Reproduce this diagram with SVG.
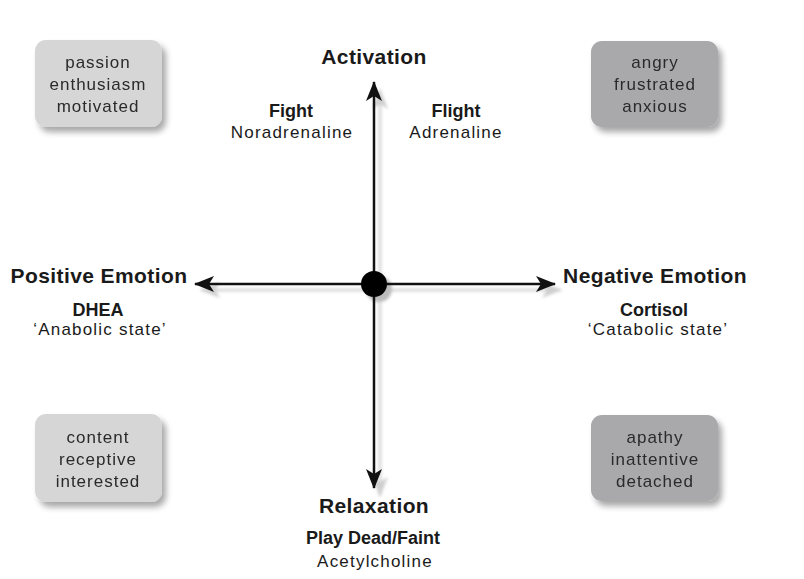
<svg xmlns="http://www.w3.org/2000/svg" width="804" height="579" viewBox="0 0 804 579">
<defs>
<style>
text{font-family:"Liberation Sans",Arial,sans-serif;fill:#1a1a1a;text-anchor:middle}
.h{font-weight:bold;font-size:21px;letter-spacing:0.4px}
.b{font-weight:bold;font-size:18px}
.r{font-size:17px;letter-spacing:1.2px}
.bx{font-size:17px;letter-spacing:1px;fill:#2a2a2a}
.light{fill:#d6d6d7}
.dark{fill:#a9a9ab}
.axis{stroke:#111;stroke-width:2.5;fill:none}
.shadow{stroke:#d8d8d8;stroke-width:3;fill:none}
</style>
<filter id="sh" x="-20%" y="-20%" width="150%" height="150%">
<feGaussianBlur in="SourceAlpha" stdDeviation="3"/>
<feOffset dx="4" dy="5" result="o"/>
<feComponentTransfer><feFuncA type="linear" slope="0.35"/></feComponentTransfer>
<feMerge><feMergeNode/><feMergeNode in="SourceGraphic"/></feMerge>
</filter>
<filter id="blur"><feGaussianBlur stdDeviation="1.5"/></filter>
<marker id="ah" viewBox="0 0 20 16" refX="19" refY="8" markerWidth="20" markerHeight="16" markerUnits="userSpaceOnUse" orient="auto">
<path d="M0,0 L20,8 L0,16 L5,8 Z" fill="#111"/>
</marker>
<marker id="ahs" viewBox="0 0 20 16" refX="19" refY="8" markerWidth="20" markerHeight="16" markerUnits="userSpaceOnUse" orient="auto">
<path d="M0,0 L20,8 L0,16 L5,8 Z" fill="#cfcfcf"/>
</marker>
</defs>
<rect width="804" height="579" fill="#fff"/>

<g id="connectors">
<g filter="url(#blur)">
<line class="shadow" x1="380" y1="290" x2="380" y2="90" marker-end="url(#ahs)"/>
<line class="shadow" x1="380" y1="290" x2="380" y2="496" marker-end="url(#ahs)"/>
<line class="shadow" x1="380" y1="290" x2="201" y2="290" marker-end="url(#ahs)"/>
<line class="shadow" x1="380" y1="290" x2="561" y2="290" marker-end="url(#ahs)"/>
<circle cx="379" cy="289" r="13" fill="#bbb"/>
</g>
<line class="axis" x1="374" y1="284" x2="374" y2="82" marker-end="url(#ah)"/>
<line class="axis" x1="374" y1="284" x2="374" y2="488" marker-end="url(#ah)"/>
<line class="axis" x1="374" y1="284" x2="195" y2="284" marker-end="url(#ah)"/>
<line class="axis" x1="374" y1="284" x2="555" y2="284" marker-end="url(#ah)"/>
<circle id="center" cx="374" cy="284" r="13" fill="#000"/>
</g>

<g id="box-tl" filter="url(#sh)">
<rect class="light" x="35" y="40" width="127" height="87" rx="11"/>
<text class="bx" x="98" y="68">passion</text>
<text class="bx" x="98" y="90">enthusiasm</text>
<text class="bx" x="98" y="112">motivated</text>
</g>
<g id="box-tr" filter="url(#sh)">
<rect class="dark" x="591" y="41" width="127" height="86" rx="11"/>
<text class="bx" x="655" y="68">angry</text>
<text class="bx" x="655" y="90">frustrated</text>
<text class="bx" x="655" y="112">anxious</text>
</g>
<g id="box-bl" filter="url(#sh)">
<rect class="light" x="35" y="414" width="127" height="88" rx="11"/>
<text class="bx" x="98" y="443">content</text>
<text class="bx" x="98" y="465">receptive</text>
<text class="bx" x="98" y="487">interested</text>
</g>
<g id="box-br" filter="url(#sh)">
<rect class="dark" x="591" y="415" width="127" height="86" rx="11"/>
<text class="bx" x="655" y="443">apathy</text>
<text class="bx" x="655" y="465">inattentive</text>
<text class="bx" x="655" y="487">detached</text>
</g>

<g id="activation">
<text class="h" x="374" y="64">Activation</text>
</g>
<g id="fight">
<text class="b" x="291" y="117">Fight</text>
<text class="r" x="292" y="138">Noradrenaline</text>
</g>
<g id="flight">
<text class="b" x="456" y="117">Flight</text>
<text class="r" x="456" y="138">Adrenaline</text>
</g>
<g id="positive">
<text class="h" x="99" y="283">Positive Emotion</text>
<text class="b" x="98" y="316">DHEA</text>
<text class="r" x="100" y="335">‘Anabolic state’</text>
</g>
<g id="negative">
<text class="h" x="655" y="283">Negative Emotion</text>
<text class="b" x="654" y="316">Cortisol</text>
<text class="r" x="658" y="335">‘Catabolic state’</text>
</g>
<g id="relaxation">
<text class="h" x="374" y="513">Relaxation</text>
<text class="b" x="373" y="544">Play Dead/Faint</text>
<text class="r" x="375" y="567">Acetylcholine</text>
</g>
</svg>
